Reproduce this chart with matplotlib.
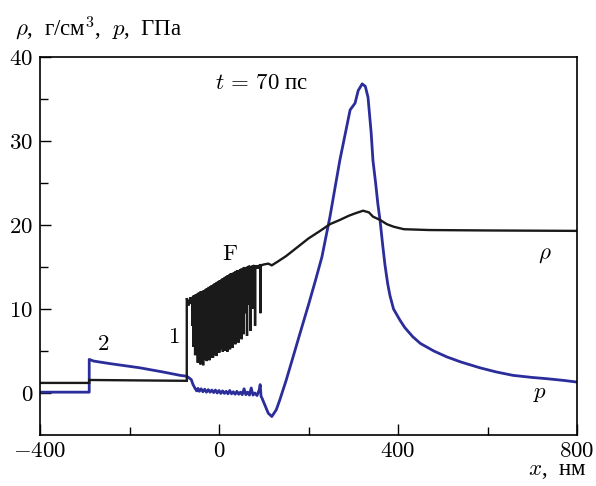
import matplotlib
matplotlib.use("Agg")
import matplotlib.pyplot as plt
import numpy as np

plt.rcParams['font.family'] = ['cmr10']
plt.rcParams['mathtext.fontset'] = 'cm'
plt.rcParams['axes.formatter.use_mathtext'] = True

CYR = ['Liberation Serif', 'DejaVu Serif']

# ---- density rho (g/cm^3) ----
rho_left_x = [-400, -290, -290, -180, -72, -72, -68, -64, -61]
rho_left_y = [1.2, 1.2, 1.55, 1.5, 1.45, 11.3, 10.4, 11.4, 10.6]

rho_spike_x = [-60, -58, -56, -54, -52, -50, -48, -46, -44, -42, -40, -38, -36, -34,
               -32, -30, -28, -26, -24, -22, -20, -18, -16, -14, -12, -10, -8, -6,
               -4, -2, 0, 2, 4, 6, 8, 10, 12, 14, 16, 18, 20, 22, 24, 26, 28, 30,
               32, 34, 36, 38, 40, 43, 47, 50, 54, 58, 62, 66, 70, 76, 80, 86, 92]
rho_spike_top = [11.0, 11.5, 11.5, 11.6, 11.6, 11.7, 11.8, 11.8, 11.9, 12.0, 12.0,
                 12.0, 12.1, 12.1, 12.2, 12.3, 12.3, 12.4, 12.5, 12.5, 12.6, 12.7,
                 12.7, 12.8, 12.9, 12.9, 13.0, 13.1, 13.1, 13.2, 13.3, 13.3, 13.4,
                 13.5, 13.5, 13.6, 13.7, 13.7, 13.8, 13.9, 13.9, 14.0, 14.1, 14.1,
                 14.1, 14.2, 14.2, 14.3, 14.4, 14.4, 14.5, 14.5, 14.6, 14.7, 14.8,
                 14.8, 14.9, 15.0, 15.0, 15.1, 15.1, 15.1, 15.2]
rho_spike_bot = [8.0, 5.5, 7.0, 4.5, 6.2, 6.0, 3.6, 4.8, 5.0, 3.4, 4.4, 4.2, 3.3, 4.9,
                 5.2, 4.0, 3.8, 4.3, 4.6, 3.9, 4.2, 5.0, 4.6, 4.2, 4.5, 5.1, 5.5, 4.4,
                 5.0, 5.8, 4.8, 5.2, 5.3, 6.0, 4.9, 5.4, 5.6, 5.0, 5.3, 4.9, 5.8, 6.2,
                 5.2, 5.9, 6.5, 5.4, 6.1, 7.0, 5.8, 6.6, 7.5, 6.0, 8.5, 6.4, 7.0, 9.5,
                 6.8, 10.5, 7.4, 10.0, 8.0, 14.8, 9.5]

rho_right_x = [95, 100, 110, 118, 130, 150, 181, 200, 226, 248, 270, 290, 305, 322,
               335, 344, 360, 375, 390, 413, 470, 600, 800]
rho_right_y = [15.2, 15.3, 15.4, 15.2, 15.6, 16.3, 17.6, 18.4, 19.3, 20.1, 20.6, 21.1,
               21.4, 21.7, 21.5, 21.0, 20.6, 20.1, 19.8, 19.5, 19.4, 19.35, 19.3]

# ---- pressure p (GPa) ----
p_x = [-400, -290, -290, -280, -244, -177, -125, -87, -72, -62, -58, -54, -50, -47, -44,
       -40, -36, -32, -28, -24, -20, -16, -12, -8, -4, 0, 4, 8, 12, 16, 20, 24, 28, 32,
       36, 40, 44, 48, 52, 56, 60, 64, 68, 72, 76, 80, 85, 90, 92, 94, 96, 110, 118,
       128, 136, 150, 165, 181, 200, 215, 230, 248, 270, 293, 304, 311, 320, 327, 333,
       340, 344, 350, 355, 360, 366, 371, 377, 382, 390, 404, 415, 433, 450, 480, 509,
       540, 583, 620, 657, 700, 733, 770, 800]
p_y = [0.1, 0.1, 4.0, 3.8, 3.5, 3.0, 2.5, 2.1, 2.0, 1.6, 1.0, 0.6, 0.25, 0.55, 0.2,
       0.5, 0.15, 0.45, 0.1, 0.4, 0.1, 0.35, 0.05, 0.35, 0.0, 0.3, -0.05, 0.25, -0.05,
       0.2, -0.1, 0.3, -0.1, 0.15, -0.15, 0.2, -0.15, 0.1, -0.2, 0.5, -0.2, 0.1, -0.25,
       0.6, -0.25, 0.0, -0.3, 0.4, 1.0, -0.4, -0.6, -2.4, -2.8, -2.0, -0.8, 1.5, 4.2,
       7.1, 10.5, 13.3, 16.2, 21.0, 27.7, 33.7, 34.5, 36.0, 36.8, 36.5, 35.2, 31.0,
       27.7, 25.0, 22.5, 20.5, 17.5, 15.2, 13.0, 11.6, 10.0, 8.7, 7.8, 6.7, 5.9,
       5.0, 4.3, 3.7, 3.0, 2.5, 2.1, 1.85, 1.7, 1.5, 1.3]

xticks_major = [-400, 0, 400, 800]
xticks_minor = [-200, 200, 600]
yticks_major = [0, 10, 20, 30, 40]
yticks_minor = [5, 15, 25, 35]

# build rho line
rx = list(rho_left_x)
ry = list(rho_left_y)
for xs, t, b in zip(rho_spike_x, rho_spike_top, rho_spike_bot):
    rx += [xs, xs + 0.6, xs + 1.2]
    ry += [t, b, t]
rx += rho_right_x
ry += rho_right_y

fig = plt.figure(figsize=(5.96, 4.86), dpi=100)
ax = fig.add_axes([40/596, 1-435/486, 537/596, 378/486])

ax.plot(p_x, p_y, color='#2b2d9b', lw=2.0, solid_joinstyle='round')
ax.plot(rx, ry, color='#1a1a1a', lw=1.7, solid_joinstyle='miter')

ax.set_xlim(-400, 800)
ax.set_ylim(-5, 40)
ax.set_xticks(xticks_major)
ax.set_xticks(xticks_minor, minor=True)
ax.set_yticks(yticks_major)
ax.set_yticks(yticks_minor, minor=True)
ax.tick_params(which='both', direction='in', top=False, right=False,
               labelsize=16.5, width=1.0)
ax.tick_params(which='major', length=8, pad=5)
ax.tick_params(which='minor', length=6)
for s in ax.spines.values():
    s.set_linewidth(1.2)

fs = 16.5
ax.text(-259, 4.6, '2', fontsize=fs, ha='center', va='bottom')
ax.text(-98, 5.5, '1', fontsize=fs, ha='center', va='bottom')
ax.text(25, 15.3, 'F', fontsize=fs, ha='center', va='bottom')
ax.text(-8, 36.8, r'$t\,=\,70$ пс', fontsize=fs, ha='left', va='center', family=CYR)
ax.text(728, 16.4, r'$\rho$', fontsize=fs, ha='center', va='center')
ax.text(717, -0.2, r'$p$', fontsize=fs, ha='center', va='center')

fig.text(15/596, 1-28/486, r'$\rho$,  г/см$^3$,  $p$,  ГПа', fontsize=fs,
         ha='left', va='center', family=CYR)
fig.text(586/596, 1-470/486, r'$x$,  нм', fontsize=fs, ha='right', va='center',
         family=CYR)

fig.savefig('out.png', dpi=100)
